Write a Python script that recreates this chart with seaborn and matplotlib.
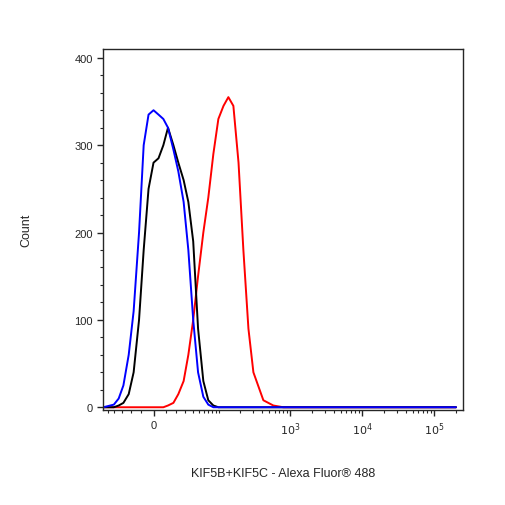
import numpy as np
import pandas as pd
import seaborn as sns
import matplotlib
matplotlib.use("Agg")
from matplotlib import pyplot as plt
from matplotlib.ticker import FixedLocator

# fluorescence values (biexponential-like axis) and event counts per curve
fluor = [-60, -41, -34, -28, -22, -17, -12, -8, -4, 0, 4, 8, 12, 17, 22, 28, 34, 41, 49, 59, 70, 83, 98,
         116, 136, 160, 189, 221, 260, 305, 420, 578, 795, 1095, 5000, 200000]
blue = [0, 3, 10, 25, 60, 110, 200, 300, 335, 340, 335, 330, 320, 295, 270, 235, 180, 100, 40, 12, 3, 0, 0,
        0, 0, 0, 0, 0, 0, 0, 0, 0, 0, 0, 0, 0]
black = [0, 0, 2, 5, 15, 40, 100, 180, 250, 280, 285, 300, 320, 300, 280, 260, 235, 190, 90, 30, 8, 2, 0,
         0, 0, 0, 0, 0, 0, 0, 0, 0, 0, 0, 0, 0]
red = [0, 0, 0, 0, 0, 0, 0, 0, 0, 0, 0, 0, 2, 5, 15, 30, 60, 100, 150, 200, 240, 290, 330,
       345, 355, 345, 280, 180, 90, 40, 8, 2, 0, 0, 0, 0]

df = pd.DataFrame({"fluor": fluor * 3,
                   "count": blue + black + red,
                   "sample": ["blue"] * len(fluor) + ["black"] * len(fluor) + ["red"] * len(fluor)})

sns.set_style("ticks")
plt.rcParams["font.family"] = ["Liberation Sans", "DejaVu Sans"]

fig = plt.figure(figsize=(5.06, 5.06), dpi=100)
ax = fig.add_axes([0.204, 0.188, 0.711, 0.713])

C = 25.0
ax.set_xscale("function", functions=(lambda x: np.arcsinh(np.asarray(x) / C),
                                     lambda y: C * np.sinh(np.asarray(y))))

sns.lineplot(data=df, x="fluor", y="count", hue="sample",
             palette={"blue": "#0000ff", "black": "#000000", "red": "#ff0000"},
             hue_order=["red", "black", "blue"], lw=1.4, legend=False, ax=ax)

ax.set_xlim(-60, 250000)
ax.set_ylim(-3, 410)
ax.xaxis.set_major_locator(FixedLocator([0, 1e3, 1e4, 1e5]))
ax.set_xticklabels(["0", "$10^3$", "$10^4$", "$10^5$"], fontsize=8)
minor = [-50, -40, -30, -20, -10, 10, 20, 30, 40, 50, 60, 70, 80, 90]
for d in [100, 1000, 10000, 100000]:
    minor += [d * k for k in range(1, 10) if d * k not in (1e3, 1e4, 1e5)]
ax.xaxis.set_minor_locator(FixedLocator(minor))
ax.yaxis.set_major_locator(FixedLocator([0, 100, 200, 300, 400]))
ax.yaxis.set_minor_locator(FixedLocator(list(range(20, 400, 20))))
ax.tick_params(axis="both", which="major", labelsize=8, length=4, width=1)
ax.tick_params(axis="both", which="minor", length=2, width=0.8)
for s in ax.spines.values():
    s.set_linewidth(1)

ax.set_xlabel("KIF5B+KIF5C - Alexa Fluor\u00ae 488", fontsize=9, labelpad=22)
ax.set_ylabel("Count", fontsize=9, labelpad=30)

fig.savefig("out.png", dpi=100)
